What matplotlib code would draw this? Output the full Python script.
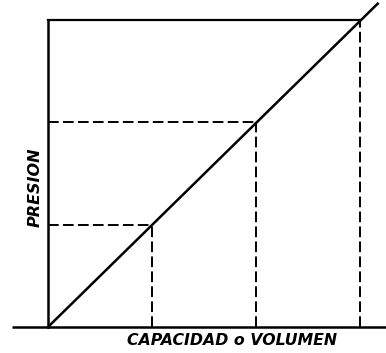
import matplotlib
matplotlib.use('Agg')
import matplotlib.pyplot as plt

# capacidad / presion (unidades relativas)
capacidad = [1, 2, 3]
presion = [1, 2, 3]
recta_x = [0, 3.17]
recta_y = [0, 3.16]

fig = plt.figure(figsize=(3.86, 3.53), dpi=100)
ax = fig.add_axes([0, 0, 1, 1])
ax.set_xlim(-0.4615, 3.25)
ax.set_ylim(-0.254, 3.196)
ax.axis('off')

# ejes
ax.plot([-0.35, 3.25], [0, 0], color='black', lw=1.8, solid_capstyle='butt')
ax.plot([0, 0], [0, presion[-1]], color='black', lw=1.8)
# linea superior
ax.plot([0, capacidad[-1]], [presion[-1], presion[-1]], color='black', lw=1.6)
# recta
ax.plot(recta_x, recta_y, color='black', lw=1.8)

# lineas de trazos
for cx, py in zip(capacidad, presion):
    ax.plot([cx, cx], [0, py], color='black', lw=1.4, linestyle=(0, (5.5, 2.2)))
for cx, py in zip(capacidad[:-1], presion[:-1]):
    ax.plot([0, cx], [py, py], color='black', lw=1.4, linestyle=(0, (5.5, 2.2)))

ax.text(-0.125, 1.37, 'PRESION', rotation=90, ha='center', va='center',
        fontsize=11.5, fontweight='bold', fontstyle='italic')
ax.text(1.77, -0.127, 'CAPACIDAD o VOLUMEN', ha='center', va='center',
        fontsize=11.3, fontweight='bold', fontstyle='italic')

fig.savefig('out.png', dpi=100)
